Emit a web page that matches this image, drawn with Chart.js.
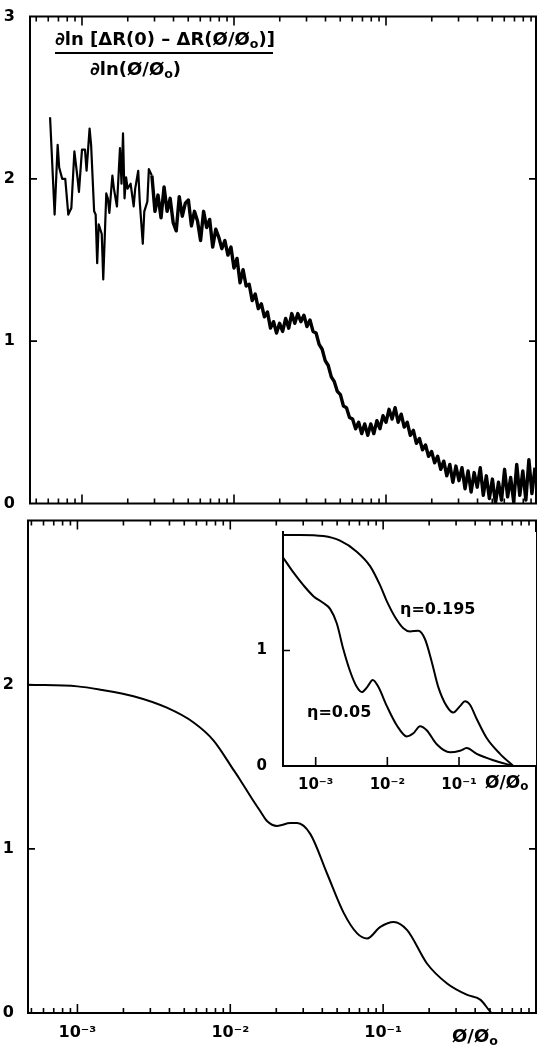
<!DOCTYPE html>
<html>
<head>
<meta charset="utf-8">
<script src="https://cdn.jsdelivr.net/npm/chart.js@4/dist/chart.umd.min.js"></script>
<style>
  body { margin: 0; background: #fff; width: 537px; height: 1046px; overflow: hidden; position: relative;
         font-family: "DejaVu Sans", sans-serif; }
  .box { position: absolute; }
  .lbl { position: absolute; white-space: nowrap; color: #000; font-weight: bold; line-height: 1; }
  .lbl sub { font-size: 0.7em; vertical-align: -0.2em; line-height: 0; }
</style>
</head>
<body>
<div class="box" style="left:0;top:0;width:537px;height:520px"><canvas id="topChart"></canvas></div>
<div class="box" style="left:0;top:505px;width:537px;height:541px"><canvas id="bottomChart"></canvas></div>
<div class="box" style="left:255px;top:515px;width:282px;height:290px"><canvas id="insetChart"></canvas></div>

<div class="lbl" style="left:55px;top:30px;font-size:18px">∂ln [ΔR(0) – ΔR(Ø/Ø<sub>o</sub>)]</div>
<div style="position:absolute;left:55px;top:52px;width:218px;height:2px;background:#000"></div>
<div class="lbl" style="left:90px;top:60px;font-size:18px">∂ln(Ø/Ø<sub>o</sub>)</div>

<div class="lbl" style="left:400px;top:601px;font-size:16px">η=0.195</div>
<div class="lbl" style="left:307px;top:704px;font-size:16px">η=0.05</div>
<div class="lbl" style="left:485px;top:774px;font-size:17px">Ø/Ø<sub>o</sub></div>
<div class="lbl" style="left:452px;top:1027px;font-size:18px">Ø/Ø<sub>o</sub></div>

<script>
// верхняя панель: измеренная кривая (шумная)
const topPhi = [
  6.166e-4, 6.607e-4, 6.918e-4, 7.079e-4, 7.413e-4, 7.762e-4, 8.128e-4, 8.511e-4, 8.913e-4, 9.333e-4, 9.550e-4,
  1.000e-3, 1.047e-3, 1.072e-3, 1.122e-3, 1.148e-3, 1.202e-3, 1.230e-3, 1.259e-3, 1.288e-3, 1.349e-3, 1.380e-3,
  1.445e-3, 1.479e-3, 1.514e-3, 1.585e-3, 1.622e-3, 1.698e-3, 1.778e-3, 1.820e-3, 1.862e-3, 1.905e-3, 1.950e-3,
  1.995e-3, 2.089e-3, 2.188e-3, 2.239e-3, 2.344e-3, 2.399e-3, 2.512e-3, 2.570e-3, 2.692e-3, 2.754e-3,
  2.884e-3, 3.020e-3, 3.162e-3, 3.311e-3, 3.467e-3, 3.631e-3, 3.802e-3, 3.981e-3, 4.169e-3, 4.365e-3,
  4.571e-3, 4.786e-3, 5.012e-3, 5.248e-3, 5.495e-3, 5.754e-3, 6.026e-3, 6.310e-3, 6.607e-3, 6.918e-3,
  7.244e-3, 7.586e-3, 7.943e-3, 8.318e-3, 8.710e-3, 9.120e-3, 9.550e-3,
  0.01000, 0.01047, 0.01096, 0.01148, 0.01202, 0.01259, 0.01318, 0.01380, 0.01445, 0.01514,
  0.01585, 0.01660, 0.01738, 0.01820, 0.01905, 0.01995, 0.02089, 0.02188, 0.02291, 0.02399,
  0.02512, 0.02630, 0.02754, 0.02884, 0.03020, 0.03162, 0.03311, 0.03467, 0.03631, 0.03802,
  0.03981, 0.04169, 0.04365, 0.04571, 0.04786, 0.05012, 0.05248, 0.05495, 0.05754, 0.06026,
  0.06310, 0.06607, 0.06918, 0.07244, 0.07586, 0.07943, 0.08318, 0.08710, 0.09120, 0.09550,
  0.1000, 0.1047, 0.1096, 0.1148, 0.1202, 0.1259, 0.1318, 0.1380, 0.1445, 0.1514,
  0.1585, 0.1660, 0.1738, 0.1820, 0.1905, 0.1995, 0.2089, 0.2188, 0.2291, 0.2399,
  0.2512, 0.2630, 0.2754, 0.2884, 0.3020, 0.3162, 0.3311, 0.3467, 0.3631, 0.3802,
  0.3981, 0.4169, 0.4365, 0.4571, 0.4786, 0.5012, 0.5248, 0.5495, 0.5754, 0.6026,
  0.6310, 0.6607, 0.6918, 0.7244, 0.7586, 0.7943, 0.8318, 0.8710, 0.9120, 0.9550
];
const topSlope = [
  2.38, 1.78, 2.21, 2.07, 2.00, 2.00, 1.78, 1.82, 2.17, 2.01, 1.92,
  2.18, 2.18, 2.05, 2.31, 2.21, 1.80, 1.78, 1.48, 1.72, 1.66, 1.38,
  1.91, 1.88, 1.79, 2.02, 1.94, 1.83, 2.19, 1.97, 2.28, 1.88, 2.01,
  1.94, 1.97, 1.83, 1.94, 2.05, 1.86, 1.60, 1.80, 1.86, 2.06,
  2.02, 1.80, 1.90, 1.76, 1.95, 1.80, 1.88, 1.73, 1.68, 1.89,
  1.77, 1.85, 1.87, 1.71, 1.80, 1.74, 1.62, 1.80, 1.70, 1.75,
  1.58, 1.69, 1.64, 1.57, 1.62, 1.53, 1.58,
  1.45, 1.51, 1.36, 1.44, 1.34, 1.35, 1.25, 1.29, 1.20, 1.23,
  1.15, 1.18, 1.08, 1.12, 1.05, 1.11, 1.06, 1.14, 1.08, 1.17,
  1.11, 1.17, 1.12, 1.16, 1.09, 1.13, 1.06, 1.05, 0.98, 0.95,
  0.88, 0.85, 0.78, 0.75, 0.69, 0.67, 0.60, 0.59, 0.53, 0.52,
  0.46, 0.50, 0.43, 0.49, 0.42, 0.49, 0.43, 0.51, 0.46, 0.54,
  0.50, 0.58, 0.52, 0.59, 0.50, 0.55, 0.47, 0.50, 0.42, 0.45,
  0.37, 0.40, 0.33, 0.36, 0.29, 0.32, 0.25, 0.29, 0.21, 0.26,
  0.17, 0.24, 0.13, 0.23, 0.14, 0.22, 0.09, 0.20, 0.07, 0.19,
  0.10, 0.22, 0.05, 0.17, 0.03, 0.15, 0.00, 0.13, 0.02, 0.21,
  0.04, 0.16, 0.01, 0.24, 0.05, 0.20, 0.02, 0.27, 0.06, 0.22
];

// нижняя панель: расчётная кривая
const calcPhi = [4.75e-4, 1.0e-3, 1.409e-3, 2.328e-3, 3.846e-3, 5.754e-3, 7.78e-3, 1.052e-2, 1.161e-2, 1.422e-2,
  1.570e-2, 1.738e-2, 2.023e-2, 2.472e-2, 2.735e-2, 3.342e-2, 4.295e-2, 5.52e-2, 6.76e-2, 7.85e-2,
  9.59e-2, 0.1172, 0.1436, 0.194, 0.262, 0.355, 0.434, 0.49, 0.51];
const calcSlope = [2.00, 1.99, 1.97, 1.93, 1.86, 1.77, 1.66, 1.48, 1.42, 1.29,
  1.23, 1.17, 1.14, 1.157, 1.157, 1.09, 0.85, 0.61, 0.485, 0.454,
  0.525, 0.555, 0.505, 0.30, 0.18, 0.11, 0.08, 0.02, 0.00];

// вставка: две кривые для разных η
const eta195Phi = [3.548e-4, 6.053e-4, 1.279e-3, 2.188e-3, 3.741e-3, 5.741e-3, 7.907e-3, 9.817e-3, 1.279e-2, 1.671e-2,
  2.075e-2, 2.704e-2, 3.357e-2, 4.159e-2, 5.140e-2, 6.730e-2, 8.337e-2, 0.1033, 0.1213, 0.1422,
  0.1766, 0.2432, 0.3733, 0.5715];
const eta195Val = [2.00, 2.00, 1.99, 1.95, 1.855, 1.73, 1.565, 1.427, 1.29, 1.193,
  1.165, 1.17, 1.097, 0.903, 0.683, 0.518, 0.463, 0.518, 0.56, 0.53,
  0.407, 0.242, 0.105, 0.00];
const eta05Phi = [3.548e-4, 4.887e-4, 6.730e-4, 9.290e-4, 1.279e-3, 1.589e-3, 1.968e-3, 2.432e-3, 3.020e-3, 3.741e-3,
  4.395e-3, 5.260e-3, 6.252e-3, 7.482e-3, 9.817e-3, 1.352e-2, 1.866e-2, 2.307e-2, 2.858e-2, 3.540e-2,
  4.887e-2, 7.482e-2, 0.1033, 0.1279, 0.1766, 0.3006, 0.5715];
const eta05Val = [1.80, 1.675, 1.565, 1.47, 1.41, 1.36, 1.235, 1.01, 0.82, 0.685,
  0.64, 0.685, 0.745, 0.685, 0.52, 0.353, 0.256, 0.283, 0.345, 0.31,
  0.188, 0.118, 0.132, 0.155, 0.105, 0.05, 0.00];

const decadeTicks = [1e-3, 1e-2, 1e-1];
const decadeLabels = ['10⁻³', '10⁻²', '10⁻¹'];

function pts(xs, ys) {
  return xs.map((x, i) => ({ x: x, y: ys[i] }));
}

// рамка и засечки внутрь, как на оригинале
const frameTicks = {
  id: 'frameTicks',
  beforeDraw(chart, args, o) {
    if (!o.fill) return;
    const a = chart.chartArea;
    chart.ctx.save();
    chart.ctx.fillStyle = '#fff';
    chart.ctx.fillRect(a.left, a.top, a.right - a.left, a.bottom - a.top);
    chart.ctx.restore();
  },
  afterDraw(chart, args, o) {
    const ctx = chart.ctx, a = chart.chartArea;
    const x = chart.scales.x, y = chart.scales.y;
    ctx.save();
    ctx.strokeStyle = '#000';
    ctx.lineCap = 'square';
    ctx.lineWidth = 2;
    ctx.beginPath();
    if (o.sides.includes('left')) { ctx.moveTo(a.left, a.top); ctx.lineTo(a.left, a.bottom); }
    if (o.sides.includes('bottom')) { ctx.moveTo(a.left, a.bottom); ctx.lineTo(a.right, a.bottom); }
    if (o.sides.includes('top')) { ctx.moveTo(a.left, a.top); ctx.lineTo(a.right, a.top); }
    if (o.sides.includes('right')) { ctx.moveTo(a.right, a.top); ctx.lineTo(a.right, a.bottom); }
    ctx.stroke();

    ctx.lineCap = 'butt';
    ctx.lineWidth = 1.6;
    ctx.beginPath();
    for (let e = -4; e <= 0; e++) {
      for (let k = 1; k <= 9; k++) {
        if (!o.minor && k > 1) continue;
        const v = k * Math.pow(10, e);
        if (v < x.min || v > x.max * 0.999 || v > o.xLimit) continue;
        const px = x.getPixelForValue(v);
        const len = k === 1 ? 9 : 5;
        ctx.moveTo(px, a.bottom); ctx.lineTo(px, a.bottom - len);
        if (o.topTicks) { ctx.moveTo(px, a.top); ctx.lineTo(px, a.top + len); }
      }
    }
    o.yTicks.forEach(v => {
      const py = y.getPixelForValue(v);
      ctx.moveTo(a.left, py); ctx.lineTo(a.left + 7, py);
      if (o.rightTicks) { ctx.moveTo(a.right, py); ctx.lineTo(a.right - 7, py); }
    });
    ctx.stroke();
    ctx.restore();
  }
};

function makeChart(id, datasets, o) {
  const font = { family: 'DejaVu Sans', weight: 'bold', size: o.fontSize };
  return new Chart(document.getElementById(id), {
    type: 'line',
    data: { datasets: datasets },
    options: {
      responsive: true,
      maintainAspectRatio: false,
      animation: false,
      layout: { padding: o.padding },
      elements: { point: { radius: 0 } },
      plugins: { legend: { display: false }, tooltip: { enabled: false }, frameTicks: o.frame },
      scales: {
        x: {
          type: 'logarithmic', min: o.xMin, max: o.xMax,
          grid: { display: false }, border: { display: false },
          afterBuildTicks: s => { s.ticks = decadeTicks.map(v => ({ value: v })); },
          afterFit: s => { s.height = o.xHeight; },
          ticks: {
            display: o.xLabels, autoSkip: false, maxRotation: 0, padding: o.xPad,
            color: '#000', font: font,
            callback: v => decadeLabels[decadeTicks.indexOf(v)]
          }
        },
        y: {
          type: 'linear', min: 0, max: o.yMax,
          grid: { display: false }, border: { display: false },
          afterBuildTicks: s => { s.ticks = o.yLabels.map(v => ({ value: v })); },
          afterFit: s => { s.width = o.yWidth; },
          ticks: { padding: o.yPad, color: '#000', font: font, callback: v => String(v) }
        }
      }
    },
    plugins: [frameTicks]
  });
}

makeChart('topChart', [{
  data: pts(topPhi, topSlope), borderColor: '#000', borderWidth: 2.2, borderJoinStyle: 'round', tension: 0,
  // шумная полоса справа толще, чем редкие выбросы слева
  segment: { borderWidth: c => c.p0DataIndex >= 43 ? 3.4 : 2.2 }
}], {
  padding: { top: 13, right: 1, left: 0, bottom: 0 },
  xMin: 4.55e-4, xMax: 0.97, yMax: 3, xHeight: 13, yWidth: 30, xLabels: false, xPad: 0, yPad: 7,
  yLabels: [0, 1, 2, 3], fontSize: 16,
  frame: { sides: ['left', 'bottom', 'top', 'right'], minor: true, topTicks: true, xLimit: 10,
           yTicks: [1, 2], rightTicks: true, fill: false }
});

makeChart('bottomChart', [{
  data: pts(calcPhi, calcSlope), borderColor: '#000', borderWidth: 2, cubicInterpolationMode: 'monotone'
}], {
  padding: { top: 14, right: 1, left: 0, bottom: 0 },
  xMin: 4.75e-4, xMax: 1.0, yMax: 3, xHeight: 33, yWidth: 28, xLabels: true, xPad: 2, yPad: 6,
  yLabels: [0, 1, 2], fontSize: 16,
  frame: { sides: ['left', 'bottom', 'top', 'right'], minor: true, topTicks: true, xLimit: 10,
           yTicks: [1, 2], rightTicks: true, fill: false }
});

makeChart('insetChart', [
  { data: pts(eta195Phi, eta195Val), borderColor: '#000', borderWidth: 2, cubicInterpolationMode: 'monotone' },
  { data: pts(eta05Phi, eta05Val), borderColor: '#000', borderWidth: 2, cubicInterpolationMode: 'monotone' }
], {
  padding: { top: 6, right: 1, left: 0, bottom: 0 },
  xMin: 3.5e-4, xMax: 1.186, yMax: 2.025, xHeight: 39, yWidth: 28, xLabels: true, xPad: 2, yPad: 8,
  yLabels: [0, 1], fontSize: 15,
  frame: { sides: ['left', 'bottom'], minor: false, topTicks: false, xLimit: 0.5,
           yTicks: [1], rightTicks: false, fill: true }
});
</script>
</body>
</html>
